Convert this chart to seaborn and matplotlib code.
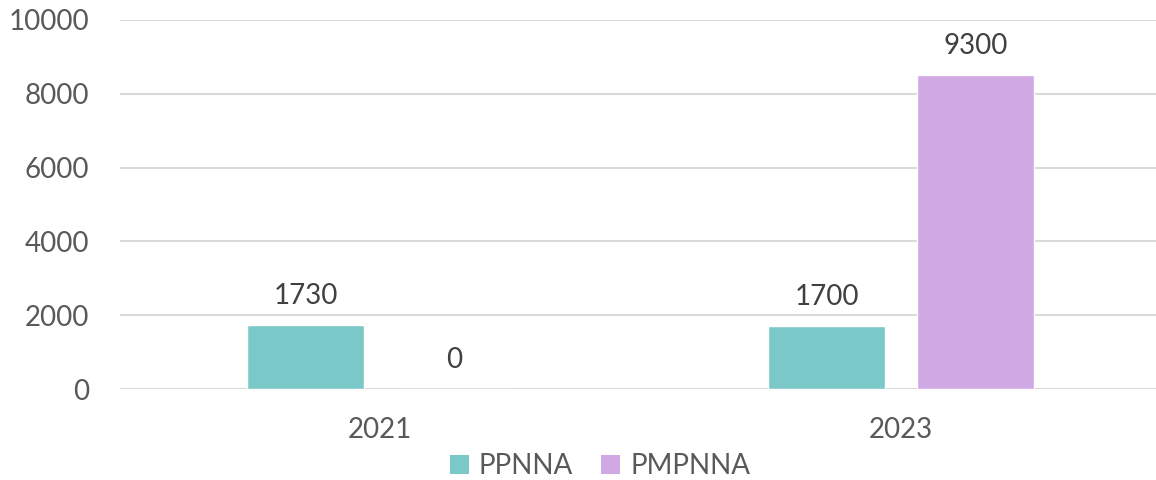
import matplotlib
matplotlib.use("Agg")
import matplotlib.pyplot as plt
import seaborn as sns
import pandas as pd
from matplotlib.patches import Patch

years = ["2021", "2023"]
series_names = ["PPNNA", "PMPNNA"]
ppnna_values = [1730, 1700]
pmpnna_values = [0, 8500]
ppnna_labels = ["1730", "1700"]
pmpnna_labels = ["0", "9300"]
y_ticks = [0, 2000, 4000, 6000, 8000, 10000]

colors = ["#7AC9C8", "#CFA8E4"]
text_color = "#595959"

df = pd.DataFrame({
    "year": years * 2,
    "series": [series_names[0]] * 2 + [series_names[1]] * 2,
    "value": ppnna_values + pmpnna_values,
    "label": ppnna_labels + pmpnna_labels,
})

sns.set_theme(style="white")
plt.rcParams["font.family"] = ["Lato", "DejaVu Sans"]

fig = plt.figure(figsize=(11.56, 4.8), dpi=100)
ax = fig.add_axes([119.5 / 1156, 1 - 389 / 480, 1042 / 1156, (389 - 20) / 480])

sns.barplot(data=df, x="year", y="value", hue="series", order=years,
            hue_order=series_names, palette=colors, width=0.572, gap=0.215,
            saturation=1, legend=False, ax=ax, zorder=3)

ax.set_ylim(0, 10000)
ax.set_xlim(-0.5, 1.5)
ax.set_yticks(y_ticks)
ax.set_yticklabels([str(t) for t in y_ticks])
ax.grid(axis="y", color="#D9D9D9", linewidth=1.5, zorder=0)
ax.grid(axis="x", visible=False)
for s in ax.spines.values():
    s.set_visible(False)
ax.set_xlabel("")
ax.set_ylabel("")
ax.tick_params(axis="y", colors=text_color, labelsize=20, length=0, pad=22)
ax.tick_params(axis="x", colors=text_color, labelsize=20, length=0, pad=20)

# data labels
for container, labels in zip(ax.containers, [ppnna_labels, pmpnna_labels]):
    for bar, lab in zip(container, labels):
        x = bar.get_x() + bar.get_width() / 2
        y = bar.get_height()
        ax.annotate(lab, (x, y), xytext=(0, 21), textcoords="offset points",
                    ha="center", va="center", fontsize=20, color="#404040",
                    annotation_clip=False)

handles = [Patch(facecolor=c, edgecolor="none") for c in colors]
fig.legend(handles, series_names, loc="center", bbox_to_anchor=(600 / 1156, 1 - 466 / 480),
           ncol=2, frameon=False, fontsize=20, labelcolor=text_color,
           handlelength=0.7, handleheight=0.7, handletextpad=0.35, columnspacing=1.0)

fig.savefig("out.png", dpi=100)
